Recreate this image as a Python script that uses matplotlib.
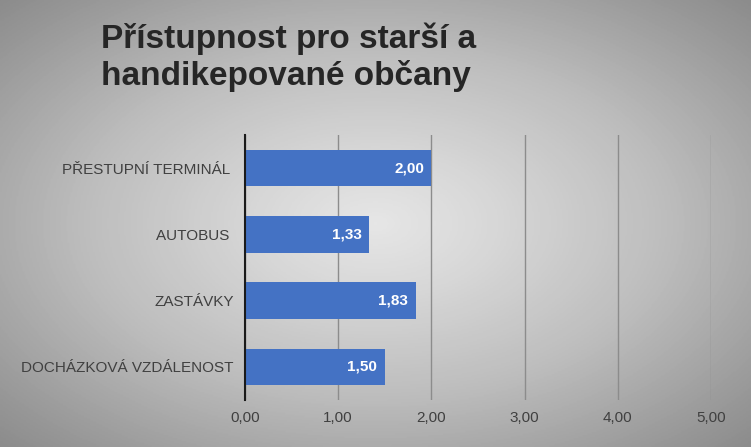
import matplotlib.pyplot as plt
import numpy as np

plt.rcParams['font.family'] = ['Liberation Sans', 'DejaVu Sans']

categories = ['DOCHÁZKOVÁ VZDÁLENOST', 'ZASTÁVKY', 'AUTOBUS ', 'PŘESTUPNÍ TERMINÁL ']
values = [1.50, 1.83, 1.33, 2.00]
xticks = [0, 1, 2, 3, 4, 5]

fig = plt.figure(figsize=(7.51, 4.47), dpi=100)

# radial grey background
bg = fig.add_axes([0, 0, 1, 1], zorder=-1)
yy, xx = np.mgrid[-1:1:300j, -1:1:500j]
r = np.sqrt(xx**2 + yy**2) / np.sqrt(2)
bg.imshow(r, cmap='Greys', vmin=-0.5, vmax=2.3, aspect='auto', extent=[0, 1, 0, 1])
bg.axis('off')

ax = fig.add_axes([0.326, 0.105, 0.621, 0.593])
ax.patch.set_alpha(0)
y = np.arange(len(categories))
bars = ax.barh(y, values, height=0.55, color='#4472C4', zorder=3)
for b, v in zip(bars, values):
    ax.text(v - 0.08, b.get_y() + b.get_height() / 2, f'{v:.2f}'.replace('.', ','),
            ha='right', va='center', color='white', fontsize=11, fontweight='bold', zorder=4)

ax.set_xlim(0, 5)
ax.set_ylim(-0.5, 3.5)
ax.set_xticks(xticks)
ax.set_xticklabels([f'{t:.2f}'.replace('.', ',') for t in xticks], color='#404040', fontsize=11)
ax.set_yticks(y)
ax.set_yticklabels(categories, color='#404040', fontsize=11)
ax.tick_params(length=0, pad=8)
ax.grid(axis='x', color='#8C8C8C', linewidth=1, zorder=0)
for s in ['top', 'right', 'bottom']:
    ax.spines[s].set_visible(False)
ax.spines['left'].set_color('#1A1A1A')
ax.spines['left'].set_linewidth(1.5)
ax.spines['left'].set_zorder(5)

fig.text(0.135, 0.95, 'Přístupnost pro starší a\nhandikepované občany', ha='left', va='top',
         fontsize=24, fontweight='bold', color='#262626', linespacing=1.2)

fig.savefig('out.png', dpi=100)
